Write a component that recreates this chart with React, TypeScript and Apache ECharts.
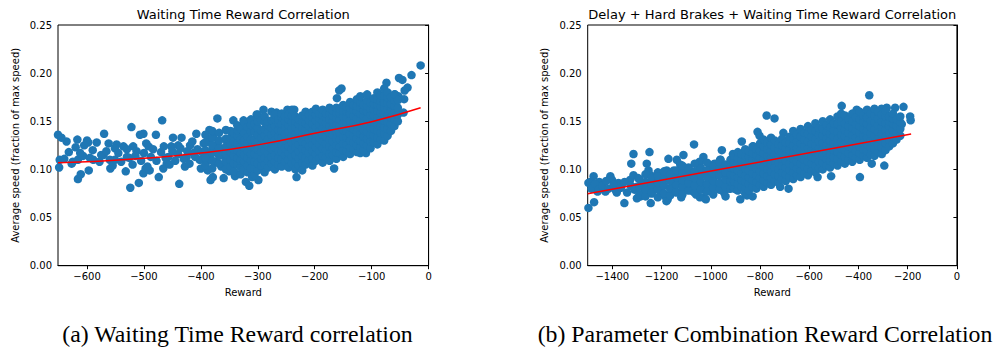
import React, { useEffect, useRef } from "react";
import * as echarts from "echarts";

// ---------- Data ----------
const titleA = "Waiting Time Reward Correlation";
const titleB = "Delay + Hard Brakes + Waiting Time Reward Correlation";
const captionA = "(a) Waiting Time Reward correlation";
const captionB = "(b) Parameter Combination Reward Correlation";
const xName = "Reward";
const yName = "Average speed (fraction of max speed)";
const xTicksA = [-600, -500, -400, -300, -200, -100, 0];
const xTicksB = [-1400, -1200, -1000, -800, -600, -400, -200, 0];

// Left chart: sparse points
const sparseA: [number, number][] = [
  [-14, 0.208], [-30, 0.198], [-52, 0.195], [-46, 0.193], [-37, 0.185], [-42, 0.182], [-74, 0.19],
  [-153, 0.184], [-157, 0.182], [-161, 0.174], [-59, 0.178], [-53, 0.176], [-43, 0.173], [-44, 0.159],
  [-84, 0.133], [-110, 0.117], [-120, 0.117], [-166, 0.101], [-163, 0.113], [-232, 0.092],
  [-236, 0.162], [-248, 0.162], [-267, 0.159], [-290, 0.162], [-371, 0.153], [-468, 0.151],
  [-522, 0.144], [-501, 0.137], [-507, 0.136], [-479, 0.136], [-570, 0.137], [-600, 0.13], [-598, 0.128],
  [-617, 0.131], [-636, 0.129], [-651, 0.136], [-645, 0.133], [-648, 0.11], [-649, 0.102],
  [-616, 0.09], [-611, 0.095], [-597, 0.099], [-524, 0.081], [-509, 0.086], [-532, 0.098],
  [-438, 0.085], [-383, 0.089], [-360, 0.091], [-321, 0.087], [-315, 0.083], [-299, 0.089], [-291, 0.1],
  [-583, 0.128], [-562, 0.127], [-548, 0.126], [-551, 0.122], [-536, 0.124], [-627, 0.106],
  [-616, 0.11], [-607, 0.114], [-589, 0.11], [-571, 0.115], [-559, 0.101], [-551, 0.11], [-530, 0.113],
  [-519, 0.124], [-513, 0.119], [-496, 0.127], [-492, 0.124], [-501, 0.096], [-497, 0.101], [-490, 0.099],
  [-474, 0.092], [-466, 0.101], [-460, 0.106], [-457, 0.113], [-449, 0.133], [-434, 0.133],
  [-452, 0.124], [-440, 0.125], [-425, 0.113], [-428, 0.103], [-419, 0.125], [-413, 0.117],
  [-402, 0.11], [-400, 0.101], [-408, 0.137], [-385, 0.141], [-379, 0.134], [-388, 0.099], [-379, 0.092],
  [-370, 0.124], [-356, 0.131], [-343, 0.151], [-325, 0.151], [-302, 0.157],
  [-640, 0.111], [-632, 0.118], [-625, 0.108], [-620, 0.123], [-612, 0.117], [-605, 0.125], [-595, 0.112],
  [-590, 0.12], [-578, 0.108], [-575, 0.115], [-566, 0.119], [-560, 0.11], [-555, 0.104], [-545, 0.117],
  [-540, 0.108], [-530, 0.121], [-526, 0.112], [-520, 0.105], [-515, 0.114], [-505, 0.109], [-500, 0.117],
  [-494, 0.103], [-488, 0.113], [-484, 0.121], [-478, 0.109], [-470, 0.118], [-465, 0.124], [-462, 0.112],
  [-455, 0.105], [-450, 0.119], [-445, 0.109], [-440, 0.116], [-436, 0.122], [-430, 0.111], [-424, 0.119],
  [-420, 0.106], [-415, 0.129], [-410, 0.113], [-406, 0.121], [-398, 0.118], [-395, 0.127], [-392, 0.106],
  [-388, 0.113], [-384, 0.131], [-380, 0.12], [-375, 0.108], [-372, 0.126], [-368, 0.116], [-364, 0.103],
  [-360, 0.121], [-357, 0.112], [-352, 0.129], [-350, 0.098], [-340, 0.093], [-310, 0.092],
];

// Left chart: dense cloud, column by column
const denseA: [number, number[]][] = [
  [-392, [0.104, 0.112, 0.12, 0.128, 0.136]],
  [-380, [0.101, 0.109, 0.117, 0.125, 0.133, 0.14]],
  [-368, [0.106, 0.114, 0.122, 0.13, 0.138]],
  [-356, [0.1, 0.108, 0.116, 0.124, 0.132, 0.141]],
  [-348, [0.103, 0.11, 0.118, 0.126, 0.133, 0.14]],
  [-342, [0.098, 0.106, 0.114, 0.121, 0.129, 0.138]],
  [-336, [0.105, 0.112, 0.12, 0.127, 0.135, 0.141, 0.146]],
  [-330, [0.095, 0.102, 0.109, 0.117, 0.124, 0.131, 0.142]],
  [-324, [0.1, 0.108, 0.115, 0.123, 0.13, 0.138, 0.149]],
  [-318, [0.097, 0.104, 0.112, 0.119, 0.127, 0.134, 0.144]],
  [-312, [0.101, 0.109, 0.116, 0.124, 0.131, 0.139, 0.146, 0.152]],
  [-306, [0.094, 0.101, 0.108, 0.116, 0.123, 0.131, 0.139, 0.147]],
  [-300, [0.099, 0.106, 0.114, 0.121, 0.129, 0.136, 0.143, 0.15, 0.157]],
  [-294, [0.104, 0.111, 0.118, 0.126, 0.133, 0.14, 0.151]],
  [-288, [0.097, 0.105, 0.112, 0.12, 0.127, 0.135, 0.142, 0.149, 0.155]],
  [-282, [0.102, 0.109, 0.117, 0.124, 0.131, 0.139, 0.146, 0.15]],
  [-276, [0.106, 0.113, 0.121, 0.128, 0.136, 0.143, 0.151, 0.16]],
  [-270, [0.1, 0.108, 0.115, 0.123, 0.13, 0.138, 0.145, 0.152, 0.157]],
  [-264, [0.105, 0.112, 0.119, 0.127, 0.134, 0.141, 0.148, 0.152]],
  [-258, [0.103, 0.11, 0.118, 0.125, 0.133, 0.14, 0.147, 0.154, 0.158]],
  [-252, [0.108, 0.115, 0.122, 0.13, 0.137, 0.144, 0.15, 0.155]],
  [-246, [0.102, 0.11, 0.117, 0.124, 0.132, 0.139, 0.146, 0.152, 0.157]],
  [-240, [0.106, 0.113, 0.121, 0.128, 0.135, 0.142, 0.149, 0.156, 0.162]],
  [-234, [0.1, 0.108, 0.115, 0.123, 0.13, 0.137, 0.144, 0.15, 0.155]],
  [-228, [0.104, 0.111, 0.119, 0.126, 0.133, 0.14, 0.147, 0.152]],
  [-222, [0.099, 0.107, 0.114, 0.122, 0.129, 0.136, 0.143, 0.15, 0.156]],
  [-216, [0.105, 0.112, 0.12, 0.127, 0.134, 0.141, 0.148, 0.155, 0.16]],
  [-210, [0.11, 0.117, 0.124, 0.131, 0.138, 0.145, 0.151, 0.157]],
  [-204, [0.104, 0.111, 0.119, 0.126, 0.133, 0.14, 0.147, 0.154, 0.16]],
  [-198, [0.109, 0.116, 0.123, 0.13, 0.137, 0.144, 0.151, 0.157, 0.163]],
  [-192, [0.112, 0.119, 0.126, 0.133, 0.14, 0.147, 0.153, 0.158]],
  [-186, [0.107, 0.114, 0.122, 0.129, 0.136, 0.143, 0.15, 0.156, 0.162]],
  [-180, [0.113, 0.12, 0.127, 0.134, 0.141, 0.148, 0.154, 0.158]],
  [-174, [0.109, 0.116, 0.124, 0.131, 0.138, 0.145, 0.152, 0.158, 0.164]],
  [-168, [0.115, 0.122, 0.129, 0.136, 0.143, 0.15, 0.156, 0.161]],
  [-162, [0.111, 0.118, 0.125, 0.132, 0.139, 0.146, 0.153, 0.159, 0.164]],
  [-156, [0.117, 0.124, 0.131, 0.138, 0.145, 0.152, 0.158, 0.163]],
  [-150, [0.113, 0.12, 0.127, 0.134, 0.141, 0.148, 0.155, 0.161, 0.167]],
  [-144, [0.119, 0.126, 0.133, 0.14, 0.147, 0.154, 0.16, 0.165]],
  [-138, [0.116, 0.123, 0.13, 0.137, 0.144, 0.151, 0.158, 0.164, 0.17]],
  [-132, [0.121, 0.128, 0.135, 0.142, 0.149, 0.156, 0.162, 0.167]],
  [-126, [0.118, 0.125, 0.132, 0.139, 0.146, 0.153, 0.16, 0.166, 0.173]],
  [-120, [0.123, 0.13, 0.137, 0.144, 0.151, 0.158, 0.164, 0.17, 0.176]],
  [-114, [0.12, 0.127, 0.134, 0.141, 0.148, 0.155, 0.161, 0.167]],
  [-108, [0.125, 0.132, 0.139, 0.146, 0.153, 0.16, 0.166, 0.172, 0.178]],
  [-102, [0.122, 0.129, 0.136, 0.143, 0.15, 0.157, 0.163, 0.169]],
  [-96, [0.128, 0.135, 0.142, 0.149, 0.156, 0.162, 0.168, 0.174]],
  [-90, [0.126, 0.133, 0.14, 0.147, 0.154, 0.161, 0.167, 0.173, 0.18]],
  [-84, [0.131, 0.138, 0.145, 0.152, 0.159, 0.165, 0.171, 0.177]],
  [-78, [0.13, 0.137, 0.144, 0.151, 0.158, 0.164, 0.17, 0.177, 0.184]],
  [-72, [0.135, 0.142, 0.149, 0.156, 0.163, 0.169, 0.175, 0.18]],
  [-66, [0.14, 0.147, 0.154, 0.161, 0.168, 0.175]],
  [-60, [0.145, 0.152, 0.159, 0.166, 0.172, 0.178]],
  [-54, [0.15, 0.157, 0.164, 0.172]],
];

// Left chart: fitted curve
const fitA: [number, number][] = [
  [-651, 0.107], [-600, 0.108], [-500, 0.1115], [-400, 0.117], [-300, 0.1255],
  [-200, 0.1375], [-100, 0.1496], [-14, 0.164],
];

// Right chart: sparse points
const sparseB: [number, number][] = [
  [-356, 0.177], [-468, 0.166], [-251, 0.164], [-285, 0.164], [-306, 0.163], [-217, 0.165],
  [-190, 0.155], [-188, 0.151], [-224, 0.147], [-407, 0.162], [-773, 0.156], [-741, 0.153],
  [-705, 0.138], [-810, 0.139], [-802, 0.135], [-1068, 0.126], [-1249, 0.118], [-1314, 0.116],
  [-1323, 0.106], [-1172, 0.111], [-1111, 0.115], [-955, 0.12], [-874, 0.129], [-346, 0.106],
  [-295, 0.104], [-394, 0.092], [-566, 0.092], [-511, 0.093], [-684, 0.08], [-718, 0.082],
  [-853, 0.073], [-946, 0.076], [-1030, 0.071], [-1044, 0.071], [-1175, 0.069], [-1244, 0.065],
  [-1351, 0.065], [-1474, 0.066], [-1497, 0.06], [-1497, 0.086], [-1490, 0.087], [-1476, 0.093],
  [-1453, 0.087], [-1408, 0.093], [-1401, 0.089], [-1375, 0.086], [-1382, 0.076], [-1428, 0.077],
  [-1460, 0.077], [-1328, 0.089], [-1314, 0.094], [-1260, 0.106], [-1253, 0.099], [-1301, 0.082],
  [-1274, 0.075], [-1233, 0.089], [-1192, 0.094], [-1179, 0.099], [-1138, 0.11], [-1124, 0.105],
  [-1138, 0.087], [-1098, 0.082], [-1071, 0.077], [-1084, 0.096], [-1044, 0.103], [-1030, 0.113],
  [-996, 0.096], [-962, 0.11], [-922, 0.103], [-895, 0.113], [-935, 0.087], [-895, 0.079],
  [-840, 0.113], [-827, 0.124], [-800, 0.096], [-773, 0.103],
  [-1485, 0.08], [-1470, 0.085], [-1455, 0.079], [-1440, 0.083], [-1425, 0.088], [-1415, 0.08],
  [-1395, 0.084], [-1385, 0.078], [-1365, 0.081], [-1350, 0.087], [-1340, 0.076], [-1325, 0.083],
  [-1310, 0.079], [-1295, 0.091], [-1285, 0.072], [-1270, 0.086], [-1260, 0.08], [-1245, 0.094],
  [-1240, 0.075], [-1225, 0.083], [-1215, 0.097], [-1205, 0.078], [-1195, 0.088], [-1185, 0.072],
  [-1170, 0.092], [-1160, 0.081], [-1150, 0.099], [-1140, 0.076], [-1130, 0.088], [-1120, 0.096],
  [-1110, 0.079], [-1100, 0.091], [-1090, 0.102], [-1080, 0.085], [-1070, 0.097], [-1060, 0.074],
  [-1055, 0.09], [-1045, 0.108], [-1035, 0.083], [-1025, 0.095], [-1015, 0.078], [-1005, 0.101],
  [-995, 0.088], [-985, 0.106], [-975, 0.082], [-970, 0.094], [-960, 0.11], [-950, 0.086],
  [-945, 0.099], [-935, 0.104], [-925, 0.08], [-915, 0.092], [-910, 0.116], [-1300, 0.07],
  [-1180, 0.067], [-1120, 0.071], [-1020, 0.069], [-990, 0.074], [-940, 0.072], [-880, 0.069],
  [-860, 0.075], [-830, 0.072],
];

// Right chart: dense cloud, column by column
const denseB: [number, number[]][] = [
  [-1290, [0.074, 0.082, 0.09]],
  [-1265, [0.072, 0.079, 0.087, 0.095]],
  [-1240, [0.076, 0.084, 0.091]],
  [-1215, [0.071, 0.079, 0.086, 0.093]],
  [-1190, [0.075, 0.083, 0.09, 0.098]],
  [-1165, [0.073, 0.08, 0.088, 0.095]],
  [-1140, [0.077, 0.084, 0.092, 0.099]],
  [-1115, [0.074, 0.082, 0.089, 0.097, 0.104]],
  [-1090, [0.078, 0.086, 0.093, 0.1]],
  [-1065, [0.076, 0.083, 0.091, 0.098, 0.106]],
  [-1040, [0.079, 0.087, 0.094, 0.101]],
  [-1015, [0.077, 0.085, 0.092, 0.099, 0.107]],
  [-990, [0.081, 0.088, 0.096, 0.103]],
  [-965, [0.079, 0.086, 0.094, 0.101, 0.108]],
  [-940, [0.082, 0.09, 0.097, 0.105]],
  [-920, [0.08, 0.088, 0.095, 0.102, 0.11]],
  [-905, [0.08, 0.087, 0.094, 0.101, 0.108, 0.114]],
  [-890, [0.078, 0.085, 0.092, 0.099, 0.106, 0.112, 0.118]],
  [-875, [0.082, 0.089, 0.096, 0.103, 0.11, 0.116]],
  [-860, [0.08, 0.087, 0.094, 0.101, 0.108, 0.114, 0.121]],
  [-845, [0.078, 0.085, 0.092, 0.099, 0.106, 0.113, 0.119]],
  [-830, [0.082, 0.089, 0.096, 0.103, 0.11, 0.117, 0.124]],
  [-815, [0.08, 0.087, 0.094, 0.101, 0.108, 0.115, 0.121]],
  [-800, [0.084, 0.091, 0.098, 0.105, 0.112, 0.119, 0.127]],
  [-785, [0.082, 0.089, 0.096, 0.103, 0.11, 0.117, 0.124, 0.131]],
  [-770, [0.086, 0.093, 0.1, 0.107, 0.114, 0.121, 0.128]],
  [-755, [0.084, 0.091, 0.098, 0.105, 0.112, 0.119, 0.126, 0.133]],
  [-740, [0.088, 0.095, 0.102, 0.109, 0.116, 0.123, 0.13]],
  [-725, [0.086, 0.093, 0.1, 0.107, 0.114, 0.12, 0.126]],
  [-710, [0.09, 0.097, 0.104, 0.111, 0.118, 0.125, 0.132]],
  [-695, [0.088, 0.095, 0.102, 0.109, 0.116, 0.122, 0.128]],
  [-680, [0.092, 0.099, 0.106, 0.113, 0.12, 0.127, 0.134]],
  [-665, [0.09, 0.097, 0.104, 0.111, 0.118, 0.125, 0.132, 0.14]],
  [-650, [0.094, 0.101, 0.108, 0.115, 0.122, 0.129, 0.136]],
  [-635, [0.092, 0.099, 0.106, 0.113, 0.12, 0.127, 0.134, 0.142]],
  [-620, [0.096, 0.103, 0.11, 0.117, 0.124, 0.131, 0.138]],
  [-605, [0.094, 0.101, 0.108, 0.115, 0.122, 0.129, 0.137, 0.145]],
  [-590, [0.099, 0.106, 0.113, 0.12, 0.127, 0.134, 0.141]],
  [-575, [0.097, 0.104, 0.111, 0.118, 0.125, 0.132, 0.14, 0.148]],
  [-560, [0.101, 0.108, 0.115, 0.122, 0.129, 0.136, 0.143]],
  [-545, [0.1, 0.107, 0.114, 0.121, 0.128, 0.135, 0.142, 0.15]],
  [-530, [0.104, 0.111, 0.118, 0.125, 0.132, 0.139, 0.146]],
  [-515, [0.102, 0.109, 0.116, 0.123, 0.13, 0.137, 0.144, 0.152]],
  [-500, [0.106, 0.113, 0.12, 0.127, 0.134, 0.141, 0.148]],
  [-485, [0.104, 0.111, 0.118, 0.125, 0.132, 0.139, 0.147, 0.155]],
  [-470, [0.108, 0.115, 0.122, 0.129, 0.136, 0.143, 0.15, 0.158]],
  [-455, [0.106, 0.113, 0.12, 0.127, 0.134, 0.141, 0.148, 0.156]],
  [-440, [0.11, 0.117, 0.124, 0.131, 0.138, 0.145, 0.152]],
  [-425, [0.108, 0.115, 0.122, 0.129, 0.136, 0.143, 0.15, 0.158]],
  [-410, [0.112, 0.119, 0.126, 0.133, 0.14, 0.147, 0.154]],
  [-395, [0.11, 0.117, 0.124, 0.131, 0.138, 0.145, 0.152, 0.16]],
  [-380, [0.114, 0.121, 0.128, 0.135, 0.142, 0.149, 0.156]],
  [-365, [0.112, 0.119, 0.126, 0.133, 0.14, 0.147, 0.154, 0.162]],
  [-350, [0.116, 0.123, 0.13, 0.137, 0.144, 0.151, 0.158]],
  [-335, [0.114, 0.121, 0.128, 0.135, 0.142, 0.149, 0.156, 0.163]],
  [-320, [0.118, 0.125, 0.132, 0.139, 0.146, 0.153, 0.16]],
  [-305, [0.116, 0.123, 0.13, 0.137, 0.144, 0.15, 0.157]],
  [-290, [0.12, 0.127, 0.134, 0.141, 0.148, 0.155, 0.161]],
  [-275, [0.124, 0.131, 0.138, 0.145, 0.15, 0.155]],
  [-260, [0.127, 0.134, 0.141, 0.148, 0.153, 0.158]],
  [-245, [0.131, 0.138, 0.145, 0.152]],
  [-230, [0.135, 0.142, 0.149, 0.155]],
];

// Right chart: fitted line
const fitB: [number, number][] = [[-1500, 0.0748], [-186, 0.1368]];

// ---------- Helpers ----------
const flatten = (cols: [number, number[]][]): [number, number][] => {
  const out: [number, number][] = [];
  cols.forEach(([x, ys]) => ys.forEach((y) => out.push([x, y])));
  return out;
};
const fmtX = (v: number) => (v < 0 ? "\u2212" + Math.abs(v) : String(v));
const fmtY = (v: number) => v.toFixed(2);

const FONT = "DejaVu Sans";
const BLUE = "#1f77b4";

export default function App() {
  const ref = useRef<HTMLDivElement>(null);
  useEffect(() => {
    document.body.style.margin = "0";
    if (!ref.current) return;
    const chart = echarts.init(ref.current, undefined, { renderer: "svg" });

    const grids = [
      { left: 58, right: 568.4, top: 25, bottom: 81.3 },
      { left: 587.7, right: 40.1, top: 25, bottom: 81.3 },
    ];
    const xAxisBase = (gi: number, min: number, ticks: number[]) => ({
      type: "value",
      gridIndex: gi,
      min,
      max: 0,
      name: xName,
      nameLocation: "middle",
      nameGap: 22,
      nameTextStyle: { fontFamily: FONT, fontSize: 10, color: "#000" },
      splitLine: { show: false },
      axisLine: { show: true, onZero: false, lineStyle: { color: "#000", width: 1 } },
      axisTick: { show: true, customValues: ticks, length: 3.5, lineStyle: { color: "#000" } },
      axisLabel: {
        customValues: ticks,
        formatter: fmtX,
        fontFamily: FONT,
        fontSize: 10,
        color: "#000",
        margin: 6,
      },
    });
    const yAxisBase = (gi: number) => ({
      type: "value",
      gridIndex: gi,
      min: 0,
      max: 0.25,
      interval: 0.05,
      name: yName,
      nameLocation: "middle",
      nameGap: 38,
      nameTextStyle: { fontFamily: FONT, fontSize: 10, color: "#000" },
      splitLine: { show: false },
      axisLine: { show: true, lineStyle: { color: "#000", width: 1 } },
      axisTick: { show: true, length: 3.5, lineStyle: { color: "#000" } },
      axisLabel: { formatter: fmtY, fontFamily: FONT, fontSize: 10, color: "#000", margin: 6 },
    });

    const scatterStyle = { color: BLUE, opacity: 1 };
    chart.setOption({
      animation: false,
      backgroundColor: "#fff",
      grid: grids.map((g) => ({ ...g, show: true, borderColor: "#000", borderWidth: 1, backgroundColor: "transparent" })),
      xAxis: [xAxisBase(0, -651, xTicksA), xAxisBase(1, -1500, xTicksB)],
      yAxis: [yAxisBase(0), yAxisBase(1)],
      series: [
        {
          type: "scatter", xAxisIndex: 0, yAxisIndex: 0, symbolSize: 8.5,
          data: [...sparseA, ...flatten(denseA)], itemStyle: scatterStyle, silent: true,
        },
        {
          type: "line", xAxisIndex: 0, yAxisIndex: 0, data: fitA, smooth: true, showSymbol: false,
          lineStyle: { color: "#ff0000", width: 1.5 }, z: 5, silent: true,
        },
        {
          type: "scatter", xAxisIndex: 1, yAxisIndex: 1, symbolSize: 8.5,
          data: [...sparseB, ...flatten(denseB)], itemStyle: scatterStyle, silent: true,
        },
        {
          type: "line", xAxisIndex: 1, yAxisIndex: 1, data: fitB, showSymbol: false,
          lineStyle: { color: "#ff0000", width: 1.5 }, z: 5, silent: true,
        },
      ],
      graphic: [
        {
          type: "text", x: 243.3, y: 14,
          style: { text: titleA, font: `13px "${FONT}"`, fill: "#000", textAlign: "center", textVerticalAlign: "middle" },
        },
        {
          type: "text", x: 772.3, y: 14,
          style: { text: titleB, font: `13px "${FONT}"`, fill: "#000", textAlign: "center", textVerticalAlign: "middle" },
        },
        {
          type: "text", x: 237.5, y: 334,
          style: { text: captionA, font: `23.8px "Liberation Serif"`, fill: "#000", textAlign: "center", textVerticalAlign: "middle" },
        },
        {
          type: "text", x: 765, y: 334,
          style: { text: captionB, font: `23.8px "Liberation Serif"`, fill: "#000", textAlign: "center", textVerticalAlign: "middle" },
        },
      ],
    });
    return () => chart.dispose();
  }, []);
  return <div ref={ref} style={{ width: 997, height: 347 }} />;
}
